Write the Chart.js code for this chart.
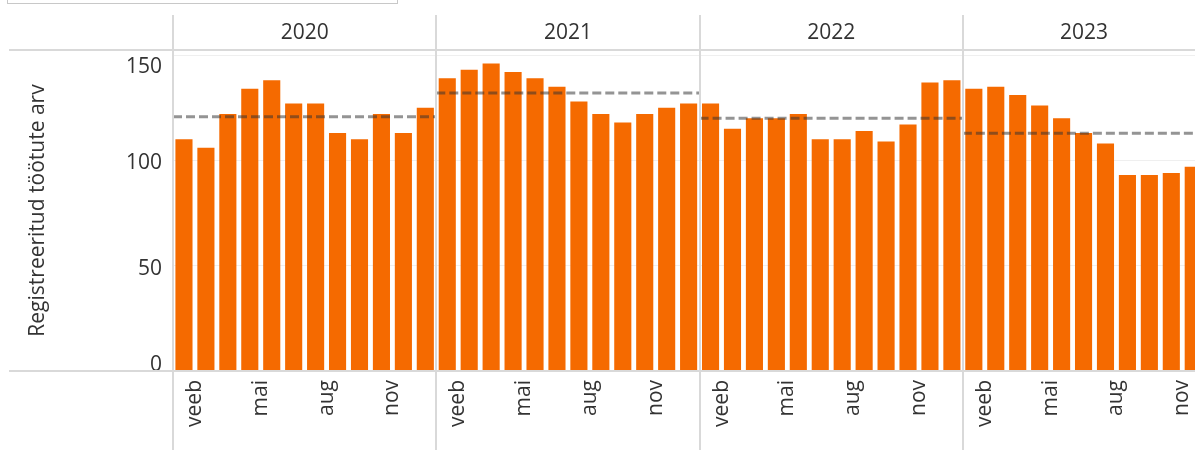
<!DOCTYPE html>
<html>
<head>
<meta charset="utf-8">
<script src="https://cdn.jsdelivr.net/npm/chart.js@4/dist/chart.umd.min.js"></script>
<style>
  html, body { margin: 0; padding: 0; background: #fff; overflow: hidden; }
  #wrap { position: relative; width: 1195px; height: 450px; }
  #chart { position: absolute; left: 0; top: 0; }
  .filterBox { position: absolute; left: 7px; top: -20px; width: 389px; height: 22px; border: 1px solid #c8c8c8; background: #fff; }
</style>
</head>
<body>
<div id="wrap">
  <canvas id="chart" width="1195" height="450"></canvas>
  <div class="filterBox"></div>
</div>
<script>
// registreeritud töötud kuude kaupa

let years = ['2020', '2021', '2022', '2023'];
let monthLabels = ['jaan', 'veeb', 'märts', 'apr', 'mai', 'juuni', 'juuli', 'aug', 'sept', 'okt', 'nov', 'dets'];
let shownMonths = [1, 4, 7, 10]; // veeb, mai, aug, nov

let values2020 = [110, 106, 122, 134, 138, 127, 127, 113, 110, 122, 113, 125];
let values2021 = [139, 143, 146, 142, 139, 135, 128, 122, 118, 122, 125, 127];
let values2022 = [127, 115, 120, 120, 122, 110, 110, 114, 109, 117, 137, 138];
let values2023 = [134, 135, 131, 126, 120, 113, 108, 93, 93, 94, 97];

// aasta keskmine (katkendjoon)
let yearAverages = [120.7, 132.0, 120.0, 112.9];

let yTicks = [0, 50, 100, 150];

let visibleMonths = 46.58; // the view is cut at the right edge
let textColor = '#333';
let lineColor = '#d9d9d9';
let fontSize = 21;


let allYears = [values2020, values2021, values2022, values2023];

let barPoints = [];
allYears.forEach((vals, yi) => {
	vals.forEach((v, m) => barPoints.push({x: yi * 12 + m + 0.5, y: v}));
});

let avgPoints = [];
yearAverages.forEach((a, yi) => {
	avgPoints.push({x: yi * 12, y: a}, {x: yi * 12 + 12, y: a}, {x: yi * 12 + 12, y: null});
});


// year headers, panel dividers and the frame lines
const panelFrame = {
	id: 'panelFrame',
	afterDraw(chart) {
		const {ctx, chartArea, scales: {x}} = chart;
		ctx.save();
		ctx.strokeStyle = lineColor;
		ctx.lineWidth = 2;
		ctx.beginPath();
		ctx.moveTo(9, chartArea.top);
		ctx.lineTo(chart.width, chartArea.top);
		ctx.moveTo(9, chartArea.bottom);
		ctx.lineTo(chart.width, chartArea.bottom);
		years.forEach((yr, i) => {
			let px = Math.round(x.getPixelForValue(i * 12));
			ctx.moveTo(px, 15);
			ctx.lineTo(px, chart.height);
		});
		ctx.stroke();

		ctx.fillStyle = textColor;
		ctx.font = fontSize + 'px "Open Sans"';
		ctx.textAlign = 'center';
		ctx.textBaseline = 'middle';
		years.forEach((yr, i) => {
			let l = x.getPixelForValue(i * 12);
			let r = Math.min(x.getPixelForValue(i * 12 + 12), chart.width + 10);
			ctx.fillText(yr, (l + r) / 2, 33);
		});
		ctx.restore();
	}
};


let myChart = new Chart(document.getElementById('chart'), {
	type: 'bar',
	data: {
		datasets: [{
			type: 'line',
			label: 'Keskmine',
			data: avgPoints,
			borderColor: 'rgba(50,50,50,0.52)',
			borderWidth: 3,
			borderDash: [9, 4],
			pointRadius: 0,
			spanGaps: false,
			order: 0
		}, {
			label: 'Registreeritud töötute arv',
			data: barPoints,
			backgroundColor: '#f56a00',
			borderWidth: 0,
			categoryPercentage: 1,
			barPercentage: 0.78,
			order: 1
		}]
	},
	options: {
		responsive: false,
		animation: false,
		layout: {
			padding: {top: 50, left: 0, right: 0, bottom: 0}
		},
		plugins: {
			legend: {display: false},
			tooltip: {enabled: false}
		},
		scales: {
			x: {
				type: 'linear',
				offset: false,
				min: 0,
				max: visibleMonths,
				afterBuildTicks: (axis) => {
					let t = [];
					years.forEach((yr, yi) => shownMonths.forEach(m => t.push({value: yi * 12 + m})));
					axis.ticks = t;
				},
				afterFit: (axis) => {
					axis.height = 79;
					axis.paddingLeft = 0;
					axis.paddingRight = 0;
				},
				grid: {display: false, offset: false},
				border: {display: false},
				ticks: {
					autoSkip: false,
					minRotation: 90,
					maxRotation: 90,
					padding: 1,
					color: textColor,
					font: {family: 'Open Sans', size: fontSize},
					callback: (value) => monthLabels[Math.round(value) % 12]
				}
			},
			y: {
				min: 0,
				max: 152.4,
				afterBuildTicks: (axis) => {
					axis.ticks = yTicks.map(v => ({value: v}));
				},
				afterFit: (axis) => {
					axis.width = 173;
					axis.paddingTop = 0;
					axis.paddingBottom = 0;
				},
				grid: {
					drawTicks: false,
					color: (c) => c.tick && c.tick.value === 0 ? 'rgba(0,0,0,0)' : '#efefef',
					lineWidth: 1
				},
				border: {display: false},
				title: {
					display: true,
					text: 'Registreeritud töötute arv',
					color: textColor,
					font: {family: 'Open Sans', size: fontSize},
					padding: {top: 25, bottom: 0}
				},
				ticks: {
					padding: 11,
					labelOffset: 3,
					color: textColor,
					font: {family: 'Open Sans', size: fontSize, lineHeight: 0.9},
					// Tableau keeps the end labels inside the pane
					callback: (value) => {
						if (value === 150) return ['', '150'];
						if (value === 0) return ['0', ''];
						return String(value);
					}
				}
			}
		}
	},
	plugins: [panelFrame]
});
</script>
</body>
</html>
